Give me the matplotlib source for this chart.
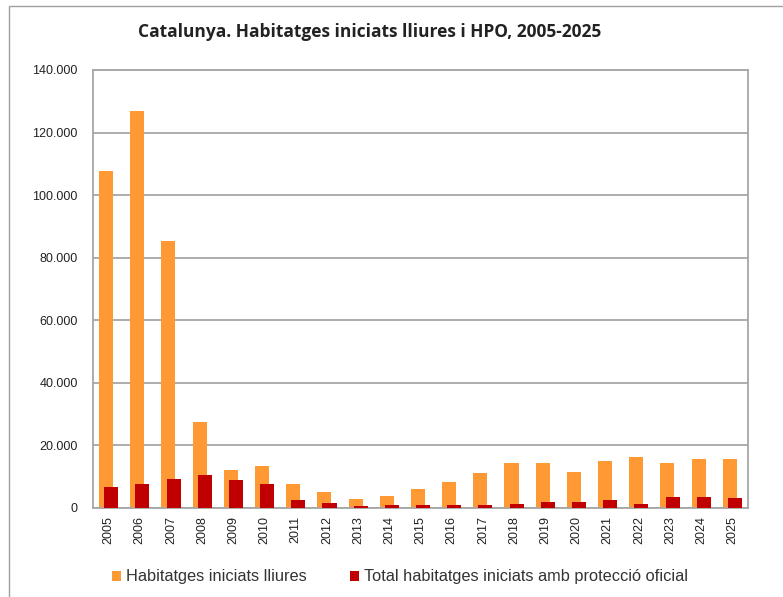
import matplotlib.pyplot as plt
import numpy as np
from matplotlib.patches import Rectangle
from matplotlib.ticker import FuncFormatter

years = [str(y) for y in range(2005, 2026)]
lliures = [107700, 126800, 85500, 27560, 12300, 13500, 7800, 5150, 2900, 3750,
           6100, 8250, 11250, 14450, 14450, 11360, 15100, 16300, 14360, 15650, 15550]
hpo = [6850, 7600, 9200, 10500, 9000, 7600, 2700, 1500, 650, 860,
       960, 860, 960, 1290, 1820, 1930, 2570, 1390, 3540, 3650, 3110]
yticks = list(range(0, 140001, 20000))

orange = '#FF9933'
red = '#C00000'
grid_c = '#A6A6A6'

fig = plt.figure(figsize=(7.83, 5.97), dpi=100)
ax = fig.add_axes([93 / 783, 89 / 597, 655 / 783, 438 / 597])

x = np.arange(len(years))
w = 0.45
ax.bar(x - 0.083, lliures, width=w, color=orange, zorder=2, label='Habitatges iniciats lliures')
ax.bar(x + 0.083, hpo, width=w, color=red, zorder=3,
       label='Total habitatges iniciats amb protecció oficial')

ax.set_xlim(-0.5, len(years) - 0.5)
ax.set_ylim(0, 140000)
ax.set_yticks(yticks)
ax.yaxis.set_major_formatter(FuncFormatter(lambda v, p: f'{int(v):,}'.replace(',', '.')))
ax.set_xticks(x)
ax.set_xticklabels(years, rotation=90)
ax.tick_params(length=0, labelsize=9, colors='#222222')
ax.tick_params(axis='y', pad=11)
ax.tick_params(axis='x', pad=6)
for lbl in ax.get_xticklabels() + ax.get_yticklabels():
    lbl.set_family('Liberation Sans')

ax.grid(axis='y', color=grid_c, linewidth=1.3, zorder=0)
ax.set_axisbelow(True)
for s in ax.spines.values():
    s.set_color(grid_c)
    s.set_linewidth(1.3)

fig.text(370 / 783, 1 - 32 / 597, 'Catalunya. Habitatges iniciats lliures i HPO, 2005-2025',
         ha='center', va='center', fontsize=12.5, fontweight='bold',
         family='Open Sans', color='#222222')

leg = fig.legend(loc='center', bbox_to_anchor=(400 / 783, 1 - 577 / 597), ncol=2,
                 frameon=False, handlelength=0.55, handleheight=0.6,
                 handletextpad=0.35, columnspacing=2.6,
                 prop={'family': 'Liberation Sans', 'size': 11.8})
for t in leg.get_texts():
    t.set_color('#333333')

# outer chart border, partly cropped
fig.patches.append(Rectangle((9 / 783, -0.1), 1.2, 1 - 6 / 597 + 0.1,
                             transform=fig.transFigure, fill=False,
                             edgecolor='#A0A0A0', linewidth=1))

fig.savefig('out.png', dpi=100)
